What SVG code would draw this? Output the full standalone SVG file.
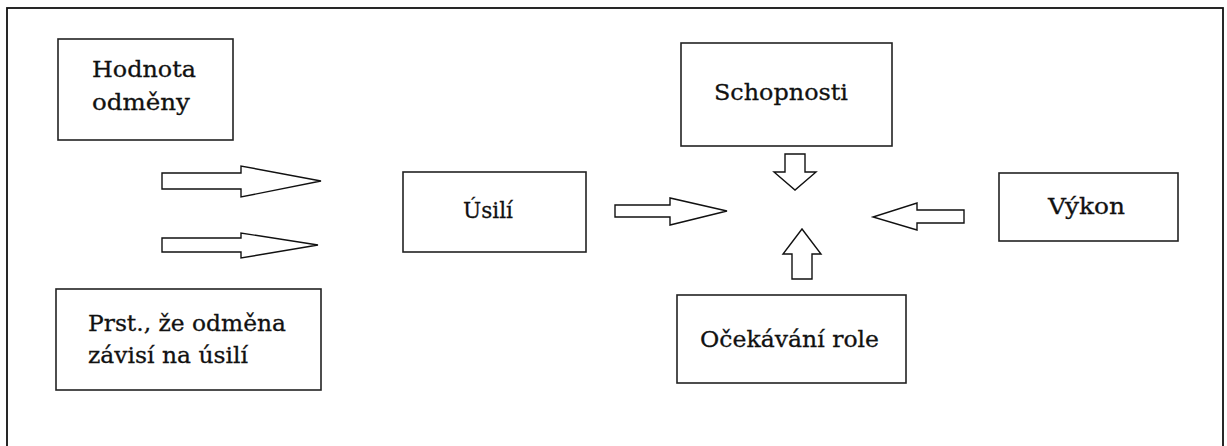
<svg xmlns="http://www.w3.org/2000/svg" width="1227" height="446" viewBox="0 0 1227 446">
<style>
  .box { fill: #fff; stroke: #222; stroke-width: 1.6; }
  .frame { fill: none; stroke: #111; stroke-width: 1.8; }
  .arrow { fill: #fff; stroke: #111; stroke-width: 1.4; stroke-linejoin: miter; }
  .lbl { font-family: "DejaVu Serif", "Liberation Serif", serif; font-size: 23px; fill: #111; stroke: #111; stroke-width: 0.3; }
</style>
<rect x="0" y="0" width="1227" height="446" fill="#fff"/>
<rect class="frame" x="7" y="8" width="1216" height="460"/>

<g id="node-hodnota">
  <rect class="box" x="58" y="39" width="175" height="101"/>
  <text class="lbl" x="92" y="77" textLength="104" lengthAdjust="spacingAndGlyphs">Hodnota</text>
  <text class="lbl" x="92" y="110" textLength="98" lengthAdjust="spacingAndGlyphs">odměny</text>
</g>

<g id="node-prst">
  <rect class="box" x="56" y="289" width="265" height="101"/>
  <text class="lbl" x="88" y="331" textLength="198" lengthAdjust="spacingAndGlyphs">Prst., že odměna</text>
  <text class="lbl" x="88" y="363" textLength="160" lengthAdjust="spacingAndGlyphs">závisí na úsilí</text>
</g>

<g id="node-usili">
  <rect class="box" x="403" y="172" width="183" height="80"/>
  <text class="lbl" x="463" y="218" textLength="50" lengthAdjust="spacingAndGlyphs">Úsilí</text>
</g>

<g id="node-schopnosti">
  <rect class="box" x="681" y="43" width="211" height="103"/>
  <text class="lbl" x="714" y="100" textLength="134" lengthAdjust="spacingAndGlyphs">Schopnosti</text>
</g>

<g id="node-ocekavani">
  <rect class="box" x="677" y="295" width="229" height="88"/>
  <text class="lbl" x="700" y="347" textLength="179" lengthAdjust="spacingAndGlyphs">Očekávání role</text>
</g>

<g id="node-vykon">
  <rect class="box" x="999" y="173" width="179" height="68"/>
  <text class="lbl" x="1048" y="214" textLength="77" lengthAdjust="spacingAndGlyphs">Výkon</text>
</g>

<g id="connectors">
  <polygon class="arrow" points="162,173 241,173 241,166 321,181 241,197 241,189 162,189"/>
  <polygon class="arrow" points="162,238 241,238 241,233 318,245 241,258 241,252 162,252"/>
  <polygon class="arrow" points="615,205 670,205 670,198 727,211 670,225 670,217 615,217"/>
  <polygon class="arrow" points="785,154 805,154 805,172 816,172 795,190 774,172 785,172"/>
  <polygon class="arrow" points="792,279 812,279 812,254 821,254 802,229 783,254 792,254"/>
  <polygon class="arrow" points="964,210 917,210 917,203 873,217 917,230 917,223 964,223"/>
</g>
</svg>
